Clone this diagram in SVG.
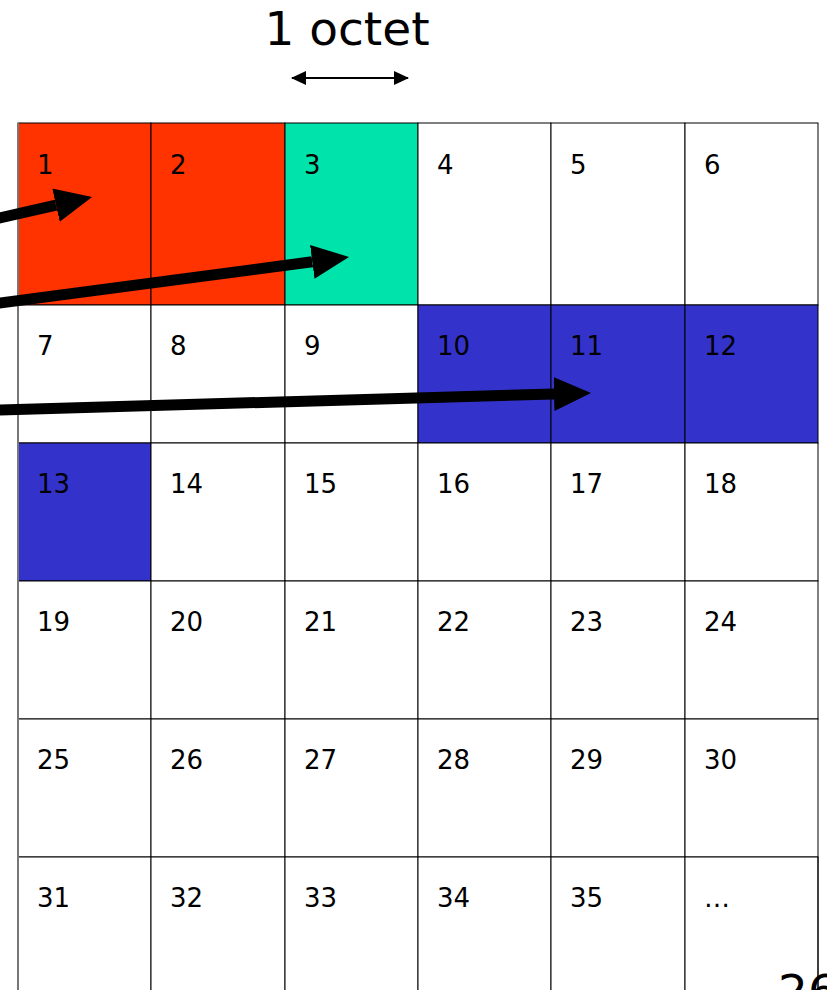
<svg xmlns="http://www.w3.org/2000/svg" width="827" height="990" viewBox="0 0 827 990">
<style>
.cell{stroke:#000;stroke-width:1;fill:#fff}
.red{fill:#ff3300}
.teal{fill:#00e3aa}
.blue{fill:#3333cc}
.num{font-family:"DejaVu Sans",sans-serif;font-size:26px;fill:#000}
.big{font-family:"DejaVu Sans",sans-serif;font-size:47px;fill:#000}
.arr{stroke:#000;stroke-width:11;fill:none}
</style>
<defs>
<marker id="head" markerUnits="userSpaceOnUse" markerWidth="40" markerHeight="36" refX="0" refY="17" orient="auto">
<path d="M0,0 L37,17 L0,34 z" fill="#000"/>
</marker>
<marker id="sh" markerUnits="userSpaceOnUse" markerWidth="16" markerHeight="16" refX="14" refY="7" orient="auto-start-reverse">
<path d="M0,0 L15,7 L0,14 z" fill="#000"/>
</marker>
</defs>
<rect width="827" height="990" fill="#fff"/>
<text class="big" x="347" y="45" text-anchor="middle">1 octet</text>
<line x1="292" y1="78" x2="408" y2="78" stroke="#000" stroke-width="2" marker-start="url(#sh)" marker-end="url(#sh)"/>
<g id="grid">
<g id="c1"><rect class="cell red" x="18" y="123" width="133" height="182"/><text class="num" x="37" y="174">1</text></g>
<g id="c2"><rect class="cell red" x="151" y="123" width="134" height="182"/><text class="num" x="170" y="174">2</text></g>
<g id="c3"><rect class="cell teal" x="285" y="123" width="133" height="182"/><text class="num" x="304" y="174">3</text></g>
<g id="c4"><rect class="cell" x="418" y="123" width="133" height="182"/><text class="num" x="437" y="174">4</text></g>
<g id="c5"><rect class="cell" x="551" y="123" width="134" height="182"/><text class="num" x="570" y="174">5</text></g>
<g id="c6"><rect class="cell" x="685" y="123" width="133" height="182"/><text class="num" x="704" y="174">6</text></g>

<g id="c7"><rect class="cell" x="18" y="305" width="133" height="138"/><text class="num" x="37" y="355">7</text></g>
<g id="c8"><rect class="cell" x="151" y="305" width="134" height="138"/><text class="num" x="170" y="355">8</text></g>
<g id="c9"><rect class="cell" x="285" y="305" width="133" height="138"/><text class="num" x="304" y="355">9</text></g>
<g id="c10"><rect class="cell blue" x="418" y="305" width="133" height="138"/><text class="num" x="437" y="355">10</text></g>
<g id="c11"><rect class="cell blue" x="551" y="305" width="134" height="138"/><text class="num" x="570" y="355">11</text></g>
<g id="c12"><rect class="cell blue" x="685" y="305" width="133" height="138"/><text class="num" x="704" y="355">12</text></g>

<g id="c13"><rect class="cell blue" x="18" y="443" width="133" height="138"/><text class="num" x="37" y="493">13</text></g>
<g id="c14"><rect class="cell" x="151" y="443" width="134" height="138"/><text class="num" x="170" y="493">14</text></g>
<g id="c15"><rect class="cell" x="285" y="443" width="133" height="138"/><text class="num" x="304" y="493">15</text></g>
<g id="c16"><rect class="cell" x="418" y="443" width="133" height="138"/><text class="num" x="437" y="493">16</text></g>
<g id="c17"><rect class="cell" x="551" y="443" width="134" height="138"/><text class="num" x="570" y="493">17</text></g>
<g id="c18"><rect class="cell" x="685" y="443" width="133" height="138"/><text class="num" x="704" y="493">18</text></g>

<g id="c19"><rect class="cell" x="18" y="581" width="133" height="138"/><text class="num" x="37" y="631">19</text></g>
<g id="c20"><rect class="cell" x="151" y="581" width="134" height="138"/><text class="num" x="170" y="631">20</text></g>
<g id="c21"><rect class="cell" x="285" y="581" width="133" height="138"/><text class="num" x="304" y="631">21</text></g>
<g id="c22"><rect class="cell" x="418" y="581" width="133" height="138"/><text class="num" x="437" y="631">22</text></g>
<g id="c23"><rect class="cell" x="551" y="581" width="134" height="138"/><text class="num" x="570" y="631">23</text></g>
<g id="c24"><rect class="cell" x="685" y="581" width="133" height="138"/><text class="num" x="704" y="631">24</text></g>

<g id="c25"><rect class="cell" x="18" y="719" width="133" height="138"/><text class="num" x="37" y="769">25</text></g>
<g id="c26"><rect class="cell" x="151" y="719" width="134" height="138"/><text class="num" x="170" y="769">26</text></g>
<g id="c27"><rect class="cell" x="285" y="719" width="133" height="138"/><text class="num" x="304" y="769">27</text></g>
<g id="c28"><rect class="cell" x="418" y="719" width="133" height="138"/><text class="num" x="437" y="769">28</text></g>
<g id="c29"><rect class="cell" x="551" y="719" width="134" height="138"/><text class="num" x="570" y="769">29</text></g>
<g id="c30"><rect class="cell" x="685" y="719" width="133" height="138"/><text class="num" x="704" y="769">30</text></g>

<g id="c31"><rect class="cell" x="18" y="857" width="133" height="138"/><text class="num" x="37" y="907">31</text></g>
<g id="c32"><rect class="cell" x="151" y="857" width="134" height="138"/><text class="num" x="170" y="907">32</text></g>
<g id="c33"><rect class="cell" x="285" y="857" width="133" height="138"/><text class="num" x="304" y="907">33</text></g>
<g id="c34"><rect class="cell" x="418" y="857" width="133" height="138"/><text class="num" x="437" y="907">34</text></g>
<g id="c35"><rect class="cell" x="551" y="857" width="134" height="138"/><text class="num" x="570" y="907">35</text></g>
<g id="c36"><rect class="cell" x="685" y="857" width="133" height="138"/><text class="num" x="704" y="907">…</text></g>
<line x1="18" y1="123" x2="18" y2="990" stroke="#777" stroke-width="2"/>
</g>
<text class="big" x="778" y="1008">26</text>
<line x1="818" y1="857" x2="818" y2="990" stroke="#000" stroke-width="1"/>
<g id="connectors">
<line class="arr" x1="-5" y1="219" x2="56" y2="205.2" marker-end="url(#head)"/>
<line class="arr" x1="-5" y1="303.7" x2="312.3" y2="261.8" marker-end="url(#head)"/>
<line class="arr" x1="-5" y1="410.1" x2="554" y2="394" marker-end="url(#head)"/>
</g>
</svg>
